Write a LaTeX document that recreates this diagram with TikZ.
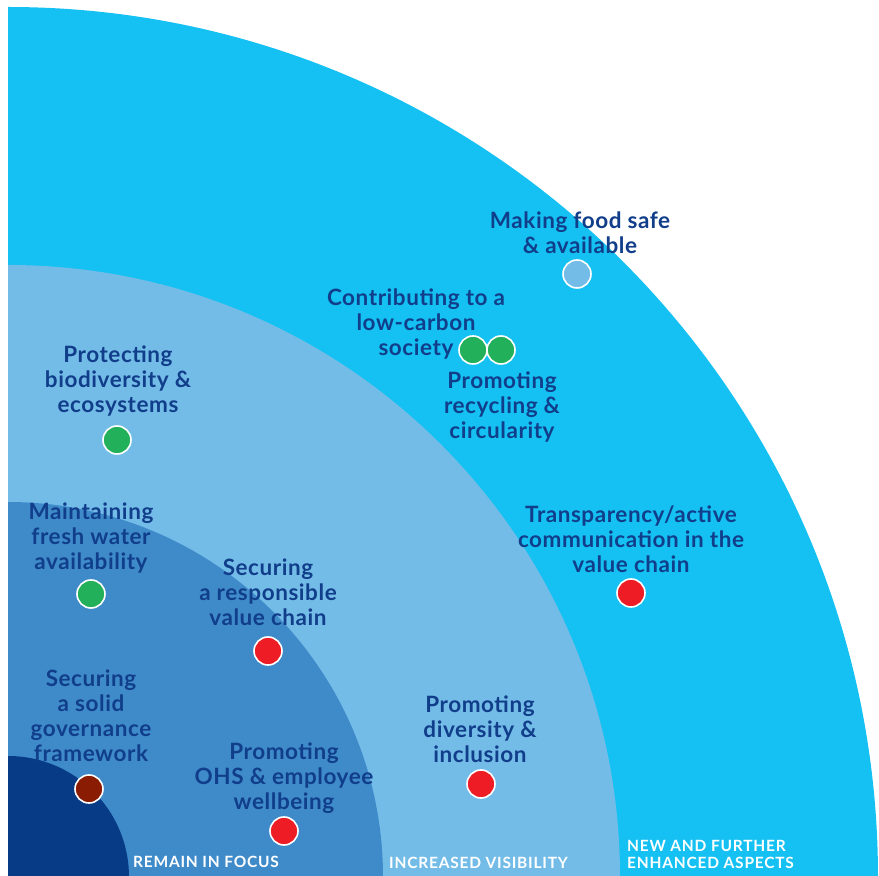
\documentclass[tikz,border=0pt]{standalone}
\usepackage{fontspec}
\setmainfont{Lato}
\newfontfamily\topicfont[LetterSpace=2.5]{Lato}
\newfontfamily\ringfont[LetterSpace=5]{Lato}
\usetikzlibrary{positioning}

\definecolor{ringouter}{HTML}{15C1F2}
\definecolor{ringmid}{HTML}{74BCE8}
\definecolor{ringinner}{HTML}{3F8BCA}
\definecolor{ringcore}{HTML}{073B86}
\definecolor{navy}{HTML}{113E8A}
\definecolor{dotgreen}{HTML}{23B05A}
\definecolor{dotred}{HTML}{EE1D25}
\definecolor{dotbrown}{HTML}{8A1C04}

\begin{document}
\begin{tikzpicture}[x=1pt, y=1pt,
	topic/.style={align=center, text=navy, inner sep=0pt, font=\topicfont\fontsize{22.5}{25}\selectfont\bfseries},
	dot/.style={circle, draw=white, line width=1.6pt, minimum size=28pt, inner sep=0pt},
	ringlabel/.style={align=left, text=white, inner sep=0pt, anchor=base west, font=\ringfont\fontsize{15.5}{17}\selectfont\bfseries}]
			\useasboundingbox (0,0) rectangle (879,876);
			\fill[white] (0,0) rectangle (879,876);
			
			\fill[ringouter] (8,-1) -- (878,-1) arc[start angle=0, end angle=90, radius=870] -- cycle;
			\fill[ringmid] (8,-1) -- (620,-1) arc[start angle=0, end angle=90, radius=612] -- cycle;
			\fill[ringinner] (8,-1) -- (383,-1) arc[start angle=0, end angle=90, radius=375] -- cycle;
			\fill[ringcore] (8,-1) -- (129,-1) arc[start angle=0, end angle=90, radius=121] -- cycle;
			
			\node[topic] (food) at (580,643) {Making food safe\\\& available};
			\node[topic] (carbon) at (416,552) {Contributing to a\\low-carbon\\society};
			\node[topic] (recycling) at (502,469) {Promoting\\recycling \&\\circularity};
			\node[topic] (biodiv) at (118,495) {Protecting\\biodiversity \&\\ecosystems};
			\node[topic] (water) at (91,338) {Maintaining\\fresh water\\availability};
			\node[topic] (chain) at (268,284) {Securing\\a responsible\\value chain};
			\node[topic] (governance) at (91,160) {Securing\\a solid\\governance\\framework};
			\node[topic] (ohs) at (284,98) {Promoting\\OHS \& employee\\wellbeing};
			\node[topic] (diversity) at (480,147) {Promoting\\diversity \&\\inclusion};
			\node[topic] (transparency) at (631,337) {Transparency/active\\communication in the\\value chain};
			
			\node[dot, fill=ringmid] (fooddot) at (577,602) {};
			\node[dot, fill=dotgreen] (carbondot) at (473,526) {};
			\node[dot, fill=dotgreen] (recyclingdot) at (501,526) {};
			\node[dot, fill=dotgreen] (biodivdot) at (117,436) {};
			\node[dot, fill=dotgreen] (waterdot) at (91,282) {};
			\node[dot, fill=dotred] (chaindot) at (268,225) {};
			\node[dot, fill=dotbrown] (governancedot) at (89,87) {};
			\node[dot, fill=dotred] (ohsdot) at (284,45) {};
			\node[dot, fill=dotred] (diversitydot) at (481,92) {};
			\node[dot, fill=dotred] (transparencydot) at (631,283) {};
			
			\node[ringlabel] (focus) at (133,8) {REMAIN IN FOCUS};
			\node[ringlabel] (visibility) at (389,7) {INCREASED VISIBILITY};
			\node[ringlabel] (enhanced) at (627,7) {NEW AND FURTHER\\ENHANCED ASPECTS};
		\end{tikzpicture}
\end{document}
